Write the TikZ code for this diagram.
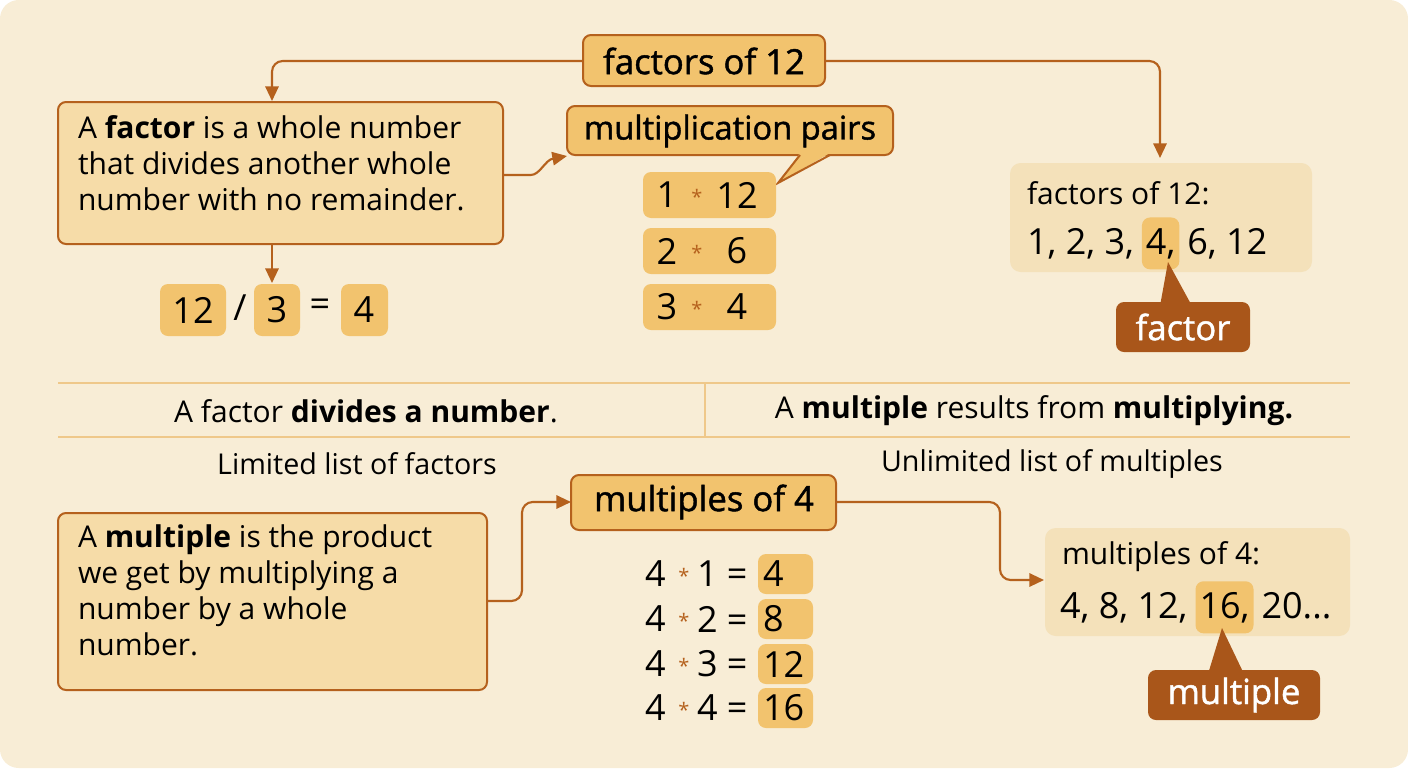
\documentclass[tikz,border=0pt]{standalone}
\usepackage{fontspec}
\setmainfont{Open Sans}
\newfontfamily\semi{Open Sans}[FakeBold=1.3]
\usetikzlibrary{arrows.meta}
\definecolor{bg}{HTML}{F8EDD6}
\definecolor{gold}{HTML}{F2C36E}
\definecolor{pale}{HTML}{F6DCA8}
\definecolor{panel}{HTML}{F4E1BA}
\definecolor{brn}{HTML}{B5611D}
\definecolor{dk}{HTML}{A9561A}
\definecolor{ln}{HTML}{EFC88A}
\tikzset{
 every node/.style={inner sep=0pt,outer sep=0pt},
 big/.style={font=\semi\fontsize{26}{30}\selectfont},
 num/.style={font=\fontsize{27}{30}\selectfont},
 body/.style={font=\fontsize{22.5}{27}\selectfont},
 small/.style={font=\fontsize{21.5}{24}\selectfont},
 title/.style={draw=brn,line width=1.5pt,fill=gold,rounded corners=6pt},
 defb/.style={draw=brn,line width=1.5pt,fill=pale,rounded corners=6pt},
 chip/.style={fill=gold,rounded corners=6pt},
 lab/.style={fill=dk,rounded corners=6pt},
 arr/.style={draw=brn,line width=1.6pt,-{Triangle[length=11pt,width=10pt]},rounded corners=8pt},
 st/.style={text=brn,font=\fontsize{15}{15}\selectfont},
}
\begin{document}
\begin{tikzpicture}[x=0.75pt,y=-0.75pt]
\useasboundingbox (0,0) rectangle (1408,768);
\fill[bg,rounded corners=14pt] (0,0) rectangle (1408,768);
% title 1
\path[title] (583,35) rectangle (825,86);
\node[big] (t1) at (704,61) {factors of 12};
\coordinate (t1l) at (583,61); \coordinate (t1r) at (825,61);
\coordinate (d1t) at (272,101); \coordinate (p1t) at (1160,158);
\draw[arr] (t1l) -- (272,61) -- (d1t);
\draw[arr] (t1r) -- (1160,61) -- (p1t);
% definition 1
\path[defb] (58,102) rectangle (503,244);
\node[body,anchor=north west,align=left] (d1) at (78,116) {A \textbf{factor} is a whole number\\that divides another whole\\number with no remainder.};
\coordinate (d1r) at (503,175); \coordinate (d1b) at (272,244);
% mult pairs callout
\path[title] (567,106) rectangle (893,155);
\fill[gold] (800,153) -- (778,183) -- (830,153) -- cycle;
\draw[brn,line width=1.5pt] (800,155) -- (778,183) -- (830,155);
\node[big,font=\semi\fontsize{24.5}{28}\selectfont] (mp) at (730,131) {multiplication pairs};
\coordinate (mpl) at (567,156);
\draw[arr] (d1r) -- (520,175) .. controls (540,175) and (545,160) .. (mpl);
% pairs
\foreach \y/\a/\b [count=\i] in {195/1/12,251/2/6,307/3/4}{
 \path[chip] (643,\y-23) rectangle (776,\y+23);
 \node[num,anchor=center] (pa\i) at (667,\y) {\a};
 \node[st] at (697,\y+2) {*};
 \node[num,anchor=center] (pb\i) at (737,\y) {\b};
}
% 12/3=4
\draw[arr] (d1b) -- (272,283);
\path[chip] (160,284) rectangle (226,336); \node[num] (n12) at (193,310) {12};
\node[num] (sl) at (240,308) {/};
\path[chip] (254,284) rectangle (300,336); \node[num] (n3) at (277,310) {3};
\node[num] (eq) at (320,308) {=};
\path[chip] (341,284) rectangle (388,336); \node[num] (n4) at (364,310) {4};
% factors panel
\fill[panel,rounded corners=8pt] (1010,163) rectangle (1312,272);
\node[body,anchor=west] (fl) at (1027,193) {factors of 12:};
\node[num,anchor=base west] (fa1) at (1027,254) {1, 2, 3,};
\node[num,anchor=base west,chip,inner xsep=3pt,inner ysep=8pt] (fa2) at ([xshift=6pt]fa1.base east) {4,};
\node[num,anchor=base west] (fa3) at ([xshift=6pt]fa2.base east) {6, 12};
\fill[dk] (1168,262) -- (1160,306) -- (1192,306) -- cycle;
\path[lab] (1116,302) rectangle (1250,352);
\node[big,text=white] (fa) at (1183,327) {factor};
% divider lines
\draw[ln,line width=1.5pt] (58,383) -- (1350,383);
\draw[ln,line width=1.5pt] (58,437) -- (1350,437);
\draw[ln,line width=1.5pt] (705,383) -- (705,437);
\node[body] (s1) at (366,411) {A factor \textbf{divides a number}.};
\node[body] (s2) at (1034,411) {A \textbf{multiple} results from \textbf{multiplying.}};
\node[small] (l1) at (357,464) {Limited list of factors};
\node[small] (l2) at (1052,464) {Unlimited list of multiples};
% multiples title
\path[title] (571,475) rectangle (836,530);
\node[big] (t2) at (704,502) {multiples of 4};
\coordinate (t2l) at (571,502); \coordinate (t2r) at (836,502);
% def 2
\path[defb] (58,513) rectangle (487,690);
\node[body,anchor=north west,align=left] (d2) at (78,525) {A \textbf{multiple} is the product\\we get by multiplying a\\number by a whole\\number.};
\coordinate (d2r) at (487,601);
\draw[arr] (d2r) -- (522,601) -- (522,502) -- (t2l);
% equations
\foreach \y/\k/\r [count=\i] in {574/1/4,619/2/8,664/3/12,708/4/16}{
 \path[chip] (758,\y-20) rectangle (813,\y+20);
 \node[num,anchor=west] (e\i) at (645,\y) {4};
 \node[st] at (684,\y+2) {*};
 \node[num,anchor=west] at (697,\y) {\k\ =};
 \node[num,anchor=west] (r\i) at (763,\y) {\r};
}
% multiples panel
\fill[panel,rounded corners=8pt] (1045,528) rectangle (1350,636);
\node[body,anchor=west] (ml) at (1062,557) {multiples of 4:};
\node[num,anchor=base west] (mn1) at (1060,618) {4, 8, 12,};
\node[num,anchor=base west,chip,inner xsep=3pt,inner ysep=8pt] (mn2) at ([xshift=6pt]mn1.base east) {16,};
\node[num,anchor=base west] (mn3) at ([xshift=6pt]mn2.base east) {20...};
\coordinate (mpL) at (1044,580);
\draw[arr] (t2r) -- (1000,502) -- (1000,580) -- (mpL);
\fill[dk] (1222,628) -- (1208,674) -- (1244,674) -- cycle;
\path[lab] (1148,670) rectangle (1320,720);
\node[big,text=white] (mu) at (1234,695) {multiple};
\end{tikzpicture}
\end{document}
